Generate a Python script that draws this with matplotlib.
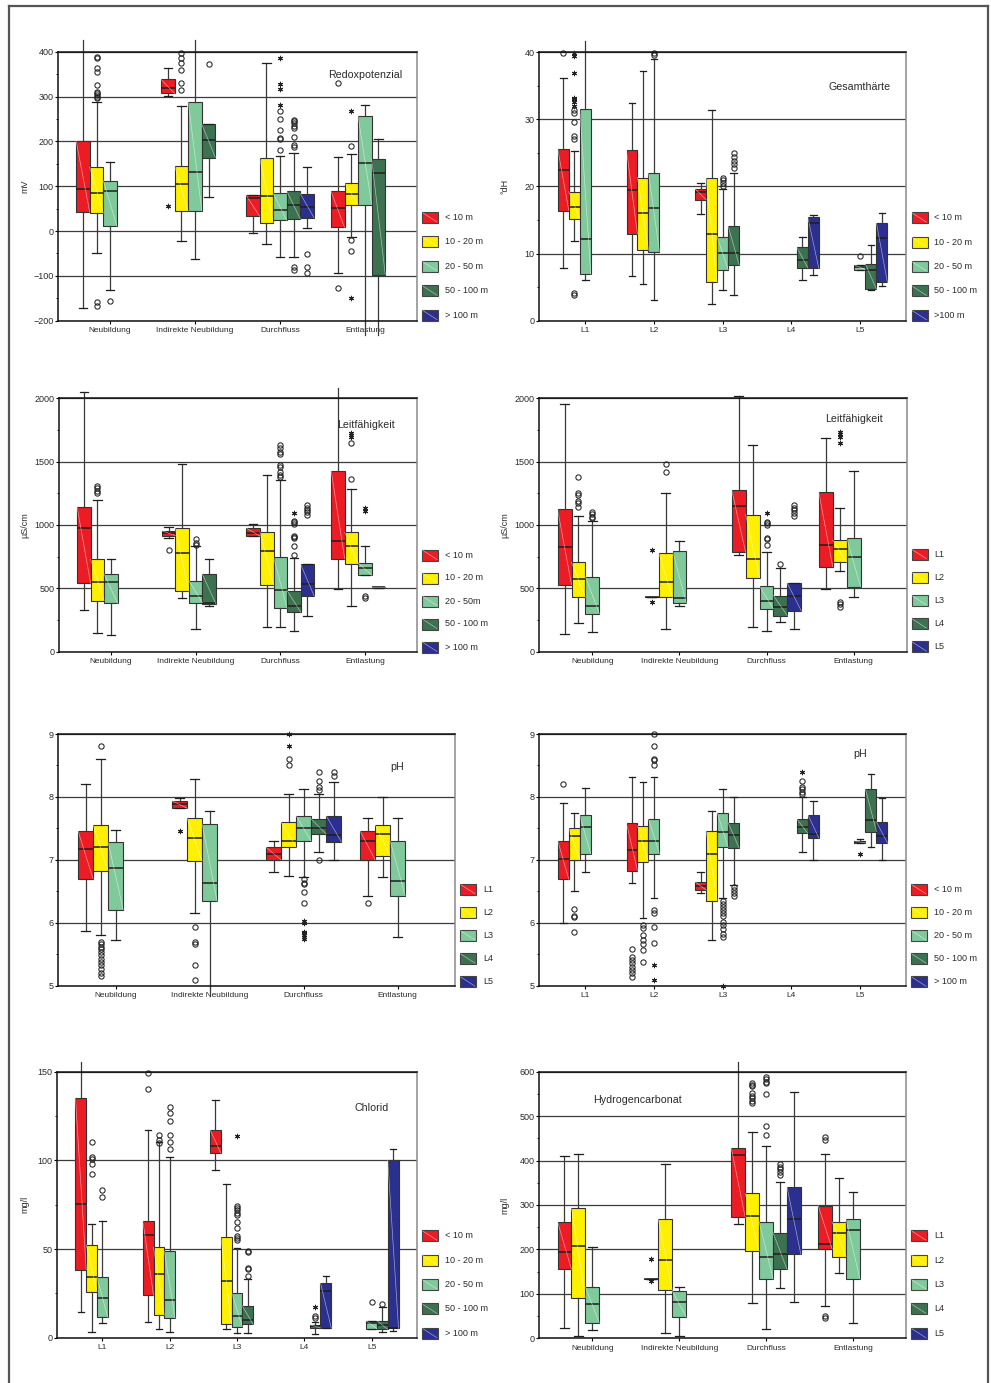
import matplotlib
matplotlib.use("Agg")
import matplotlib.pyplot as plt
from matplotlib.patches import Rectangle
from matplotlib.lines import Line2D
from matplotlib.ticker import MultipleLocator

plt.rcParams['font.family'] = ['Liberation Sans', 'DejaVu Sans']

W, H, DPI = 991, 1383, 100

# Fill colours of the five series (depth classes or landscape units)
COLORS = ['#EC1C24', '#FFF000', '#80C99A', '#3C7250', '#2B2F8E']

DEPTH_LABELS = ['< 10 m', '10 - 20 m', '20 - 50 m', '50 - 100 m', '> 100 m']
DEPTH_LABELS_B = ['< 10 m', '10 - 20 m', '20 - 50 m', '50 - 100 m', '>100 m']
DEPTH_LABELS_C = ['< 10 m', '10 - 20 m', '20 - 50m', '50 - 100 m', '> 100 m']
UNIT_LABELS = ['L1', 'L2', 'L3', 'L4', 'L5']
FLOW_GROUPS = ['Neubildung', 'Indirekte Neubildung', 'Durchfluss', 'Entlastung']
UNIT_GROUPS = ['L1', 'L2', 'L3', 'L4', 'L5']

# Box statistics: (group, series, lower whisker, Q1, median, Q3, upper whisker)
REDOX_BOXES = [
    (0, 0, -172, 42, 93, 201, 426), (0, 1, -50, 40, 85, 142, 287),
    (0, 2, -132, 11, 90, 112, 154),
    (1, 0, 302, 307, 320, 338, 363), (1, 1, -22, 44, 104, 145, 279),
    (1, 2, -63, 45, 132, 288, 426), (1, 3, 76, 164, 204, 238, 238),
    (2, 0, -4, 33, 73, 80, 80), (2, 1, -30, 19, 78, 164, 374),
    (2, 2, -59, 24, 47, 84, 167), (2, 3, -59, 27, 59, 89, 175),
    (2, 4, 6, 30, 54, 83, 143),
    (3, 0, -94, 8, 52, 89, 166), (3, 1, -14, 59, 82, 108, 172),
    (3, 2, -232, 59, 152, 256, 280), (3, 3, -232, -97, 129, 160, 205),
]
REDOX_OPEN = [(0, 0, 'hi'), (1, 2, 'hi'), (3, 2, 'lo'), (3, 3, 'lo')]
REDOX_OUTLIERS = [
    (0, 1, [388, 385, 363, 354, 326, 311, 307, 303, 299, 296, -158, -167]),
    (0, 2, [-157]),
    (1, 1, [396, 385, 375, 359, 331, 314]),
    (1, 3, [372]),
    (2, 2, [181, 205, 208, 225, 250, 268]),
    (2, 3, [188, 193, 210, 229, 235, 240, 245, 248, -80, -86]),
    (2, 4, [-51, -80, -94]),
    (3, 0, [331, -126]),
    (3, 1, [190, -20, -44]),
]
REDOX_EXTREMES = [(1, 0, [56]), (2, 2, [281, 317, 327, 385]), (3, 1, [268, -150])]

HARD_BOXES = [
    (0, 0, 7.8, 16.4, 22.4, 25.5, 36.2), (0, 1, 11.9, 15.2, 17.0, 19.2, 25.2),
    (0, 2, 6.1, 6.9, 12.2, 31.5, 41.6),
    (1, 0, 6.6, 12.9, 19.4, 25.4, 32.4), (1, 1, 5.4, 10.5, 16.1, 21.3, 37.1),
    (1, 2, 3.1, 10.3, 16.8, 22.0, 39.0),
    (2, 0, 15.9, 18.0, 19.1, 19.6, 20.5), (2, 1, 2.5, 5.7, 12.9, 21.2, 31.4),
    (2, 2, 4.5, 7.6, 10.1, 12.5, 19.6), (2, 3, 3.9, 8.3, 10.1, 14.1, 22.0),
    (3, 3, 6.0, 7.9, 9.0, 10.9, 12.4), (3, 4, 6.8, 7.8, 14.6, 15.4, 15.8),
    (4, 2, 7.6, 7.6, 8.0, 8.3, 8.3), (4, 3, 4.5, 4.7, 7.6, 8.4, 11.2),
    (4, 4, 5.2, 5.7, 12.3, 14.5, 16.0),
]
HARD_OPEN = [(0, 2, 'hi')]
HARD_OUTLIERS = [
    (0, 0, [39.8]),
    (0, 1, [27.0, 27.5, 29.6, 30.9, 31.4, 3.9, 4.1]),
    (1, 2, [39.6, 39.8]),
    (2, 2, [20.1, 20.5, 20.9, 21.3]),
    (2, 3, [22.8, 23.3, 23.8, 24.4, 24.9]),
    (4, 2, [9.7]),
]
HARD_EXTREMES = [(0, 1, [39.8, 39.4, 36.9, 33.2, 33.0, 32.6, 32.0])]

COND_FLOW_BOXES = [
    (0, 0, 326, 540, 979, 1142, 2047), (0, 1, 150, 403, 553, 729, 1195),
    (0, 2, 132, 382, 553, 611, 732),
    (1, 0, 895, 916, 939, 955, 987), (1, 1, 426, 476, 776, 974, 1479),
    (1, 2, 176, 387, 442, 561, 832), (1, 3, 361, 376, 382, 611, 729),
    (2, 0, 913, 913, 939, 974, 1008), (2, 1, 192, 526, 792, 942, 1392),
    (2, 2, 192, 342, 487, 745, 1355), (2, 3, 161, 313, 363, 482, 742),
    (2, 4, 282, 439, 537, 689, 689),
    (3, 0, 492, 732, 876, 1429, 2081), (3, 1, 358, 692, 837, 942, 1287),
    (3, 2, 603, 603, 661, 700, 837), (3, 3, 505, 505, 508, 508, 508),
]
COND_FLOW_OPEN = [(3, 0, 'hi')]
COND_FLOW_OUTLIERS = [
    (0, 1, [1308, 1289, 1268, 1250]),
    (1, 0, [803]),
    (1, 2, [887, 855, 845]),
    (2, 2, [1632, 1605, 1580, 1558, 1474, 1460, 1420, 1395, 1382]),
    (2, 3, [763, 837, 895, 905, 916, 1010, 1020, 1030]),
    (2, 4, [1158, 1137, 1118, 1100, 1079]),
    (3, 1, [1361, 1650]),
    (3, 2, [442, 426]),
]
COND_FLOW_EXTREMES = [(2, 3, [1092]), (3, 1, [1724, 1711, 1697]), (3, 2, [1132, 1111])]

COND_UNIT_BOXES = [
    (0, 0, 137, 529, 829, 1124, 1953), (0, 1, 226, 429, 571, 705, 1068),
    (0, 2, 155, 300, 361, 592, 1032),
    (1, 0, 434, 434, 434, 434, 434), (1, 1, 182, 429, 547, 782, 1255),
    (1, 2, 361, 382, 421, 797, 876),
    (2, 0, 763, 784, 1150, 1276, 2021), (2, 1, 197, 584, 729, 1082, 1632),
    (2, 2, 166, 337, 400, 516, 784), (2, 3, 232, 284, 350, 442, 660),
    (2, 4, 182, 321, 437, 539, 545),
    (3, 0, 495, 671, 842, 1261, 1689), (3, 1, 637, 705, 811, 882, 1137),
    (3, 2, 429, 511, 750, 900, 1429),
]
COND_UNIT_OPEN = []
COND_UNIT_OUTLIERS = [
    (0, 1, [1382, 1250, 1237, 1189, 1171, 1145]),
    (0, 2, [1100, 1084, 1066, 1053]),
    (1, 1, [1479, 1421]),
    (2, 2, [842, 887, 900, 1000, 1013, 1026]),
    (2, 3, [689]),
    (2, 4, [1158, 1137, 1118, 1095, 1074]),
    (3, 1, [395, 376, 355]),
]
COND_UNIT_EXTREMES = [(1, 0, [803, 389]), (2, 2, [1092]), (3, 1, [1737, 1716, 1697, 1650])]

PH_FLOW_BOXES = [
    (0, 0, 5.87, 6.70, 7.18, 7.46, 8.20), (0, 1, 5.81, 6.83, 7.20, 7.55, 8.60),
    (0, 2, 5.73, 6.21, 6.87, 7.28, 7.48),
    (1, 0, 7.82, 7.82, 7.88, 7.94, 7.99), (1, 1, 6.15, 6.98, 7.34, 7.66, 8.28),
    (1, 2, 4.83, 6.34, 6.64, 7.57, 7.78),
    (2, 0, 6.80, 7.00, 7.10, 7.20, 7.30), (2, 1, 6.74, 7.20, 7.30, 7.60, 8.04),
    (2, 2, 6.73, 7.30, 7.50, 7.70, 8.12), (2, 3, 7.12, 7.41, 7.51, 7.65, 8.04),
    (2, 4, 7.00, 7.29, 7.40, 7.70, 8.23),
    (3, 0, 6.43, 7.00, 7.30, 7.46, 7.66), (3, 1, 6.73, 7.06, 7.41, 7.56, 8.00),
    (3, 2, 5.78, 6.43, 6.67, 7.30, 7.67),
]
PH_FLOW_OPEN = [(1, 2, 'lo')]
PH_FLOW_OUTLIERS = [
    (0, 1, [8.81, 5.70, 5.66, 5.62, 5.58, 5.54, 5.48, 5.42, 5.37, 5.33, 5.27, 5.20, 5.15]),
    (1, 1, [5.94, 5.69, 5.67, 5.33, 5.09]),
    (2, 1, [8.60, 8.50]),
    (2, 2, [6.69, 6.64, 6.62, 6.49, 6.31]),
    (2, 3, [8.39, 8.25, 8.15, 8.11, 7.00]),
    (2, 4, [8.39, 8.34]),
    (3, 0, [6.31]),
]
PH_FLOW_EXTREMES = [(1, 0, [7.46]), (2, 1, [9.0, 8.81]),
                    (2, 2, [6.03, 6.00, 5.86, 5.83, 5.80, 5.77, 5.75])]

PH_UNIT_BOXES = [
    (0, 0, 6.00, 6.69, 7.01, 7.30, 7.91), (0, 1, 6.50, 7.00, 7.38, 7.50, 7.75),
    (0, 2, 6.80, 7.09, 7.52, 7.71, 8.14),
    (1, 0, 6.64, 6.83, 7.16, 7.58, 8.31), (1, 1, 6.08, 6.96, 7.30, 7.54, 8.23),
    (1, 2, 6.40, 7.10, 7.30, 7.65, 8.31),
    (2, 0, 6.47, 6.52, 6.58, 6.65, 6.81), (2, 1, 5.73, 6.35, 7.09, 7.46, 7.78),
    (2, 2, 6.40, 7.20, 7.45, 7.75, 8.12), (2, 3, 6.60, 7.19, 7.40, 7.59, 8.00),
    (3, 3, 7.12, 7.42, 7.52, 7.65, 8.00), (3, 4, 7.00, 7.35, 7.41, 7.72, 7.94),
    (4, 2, 7.26, 7.27, 7.29, 7.30, 7.33), (4, 3, 7.20, 7.45, 7.63, 8.12, 8.37),
    (4, 4, 7.00, 7.27, 7.38, 7.60, 7.99),
]
PH_UNIT_OPEN = []
PH_UNIT_OUTLIERS = [
    (0, 0, [8.20]),
    (0, 1, [6.22, 6.11, 6.09, 5.86]),
    (1, 0, [5.58, 5.45, 5.41, 5.36, 5.30, 5.25, 5.20, 5.14]),
    (1, 1, [5.96, 5.91, 5.81, 5.73, 5.67, 5.57, 5.37]),
    (1, 2, [9.00, 8.81, 8.61, 8.59, 8.50, 6.20, 6.16, 5.94, 5.68]),
    (2, 2, [6.35, 6.30, 6.25, 6.20, 6.15, 6.10, 6.02, 5.96, 5.90, 5.82, 5.78]),
    (2, 3, [6.57, 6.52, 6.47, 6.43]),
    (3, 3, [8.25, 8.16, 8.12, 8.08, 8.04]),
]
PH_UNIT_EXTREMES = [(1, 2, [5.33, 5.09]), (2, 2, [5.00]), (3, 3, [8.39]), (4, 2, [7.09])]

CHLORIDE_BOXES = [
    (0, 0, 14.3, 38.2, 75.2, 135.0, 155.6), (0, 1, 3.0, 26.0, 34.0, 52.3, 63.9),
    (0, 2, 8.1, 11.5, 22.4, 34.0, 66.0),
    (1, 0, 8.6, 23.9, 57.7, 66.0, 117.1), (1, 1, 4.7, 12.6, 35.9, 50.9, 110.5),
    (1, 2, 3.0, 11.1, 21.2, 48.7, 102.1),
    (2, 0, 94.4, 104.1, 108.3, 117.3, 134.2), (2, 1, 4.7, 7.5, 32.1, 57.0, 86.7),
    (2, 2, 2.8, 6.2, 12.0, 25.4, 50.8), (2, 3, 2.4, 7.5, 9.9, 17.9, 33.1),
    (3, 3, 2.1, 5.6, 6.4, 7.3, 9.0), (3, 4, 5.3, 5.6, 26.3, 31.0, 35.0),
    (4, 2, 5.1, 5.1, 8.1, 9.4, 9.4), (4, 3, 3.4, 4.7, 7.1, 9.6, 17.1),
    (4, 4, 3.8, 5.3, 5.6, 100.2, 106.2),
]
CHLORIDE_OPEN = [(0, 0, 'hi')]
CHLORIDE_OUTLIERS = [
    (0, 1, [110.2, 101.7, 100.9, 97.9, 92.1]),
    (0, 2, [83.3, 79.1]),
    (1, 0, [149.0, 140.2]),
    (1, 1, [114.3, 111.5, 109.6]),
    (1, 2, [130.3, 126.5, 122.2, 114.3, 110.5, 106.4]),
    (2, 2, [74.2, 72.9, 72.0, 70.5, 69.2, 65.4, 62.0, 57.5, 56.0, 55.1]),
    (2, 3, [49.1, 48.1, 39.1, 38.5, 35.0]),
    (3, 3, [12.2, 11.3]),
    (4, 2, [20.0]),
    (4, 3, [19.0]),
]
CHLORIDE_EXTREMES = [(2, 2, [113.5]), (3, 3, [17.5])]

HCO3_BOXES = [
    (0, 0, 24.0, 155.3, 195.0, 262.5, 409.5), (0, 1, 4.5, 91.5, 208.5, 294.0, 415.5),
    (0, 2, 18.8, 35.3, 76.5, 115.5, 206.0),
    (1, 0, 134, 134, 134, 134, 134), (1, 1, 12.8, 108.8, 175.5, 267.8, 391.5),
    (1, 2, 5.3, 48.8, 81.0, 106.5, 116.0),
    (2, 0, 256.5, 272.3, 412.5, 427.5, 622.5), (2, 1, 79.5, 195.8, 275.3, 326.0, 465.0),
    (2, 2, 20.3, 133.5, 182.3, 262.5, 433.5), (2, 3, 114.0, 155.3, 189.0, 237.8, 352.5),
    (2, 4, 81.0, 189.0, 268.5, 341.0, 555.0),
    (3, 0, 73.5, 201.0, 213.0, 298.5, 414.8), (3, 1, 146.3, 183.8, 237.8, 261.8, 361.5),
    (3, 2, 34.5, 133.5, 243.8, 267.8, 329.3),
]
HCO3_OPEN = [(2, 0, 'hi')]
HCO3_OUTLIERS = [
    (2, 1, [573.8, 570.0, 567.8, 551.0, 545.0, 540.0, 535.0, 530.0]),
    (2, 2, [588.8, 583.5, 577.5, 573.8, 549.8, 477.8, 457.5]),
    (2, 3, [392.0, 386.0, 380.0, 375.0, 367.5]),
    (3, 0, [452.0, 446.0, 51.0, 45.8]),
]
HCO3_EXTREMES = [(1, 0, [177.8, 129.0])]

SLOT = 0.16          # width of one box, boxes of a group sit side by side
EDGE = '#333333'
TEXT = '#2a2a2a'


def add_axes_px(fig, left, right, top, bottom):
    return fig.add_axes([left / W, 1 - bottom / H, (right - left) / W, (bottom - top) / H])


def draw_boxes(ax, boxes, outliers, extremes, open_ends):
    fl = {(g, s): v for g, s, v in outliers}
    stats, pos = [], []
    for g, s, lo, q1, med, q3, hi in boxes:
        stats.append(dict(whislo=lo, q1=q1, med=med, q3=q3, whishi=hi,
                          fliers=fl.get((g, s), [])))
        pos.append(g + 1 + (s - 2) * SLOT)
    art = ax.bxp(stats, positions=pos, widths=SLOT, capwidths=SLOT * 0.62,
                 patch_artist=True, manage_ticks=False,
                 boxprops=dict(edgecolor=EDGE, linewidth=0.8),
                 medianprops=dict(color='#1e1e1e', linewidth=1.1),
                 whiskerprops=dict(color='#3a3a3a', linewidth=0.9),
                 capprops=dict(color='#1e1e1e', linewidth=0.9),
                 flierprops=dict(marker='o', markerfacecolor='none',
                                 markeredgecolor='#222222', markersize=3.8,
                                 markeredgewidth=0.75))
    for i, (g, s, lo, q1, med, q3, hi) in enumerate(boxes):
        art['boxes'][i].set_facecolor(COLORS[s])
        for a in (art['whiskers'][2 * i], art['whiskers'][2 * i + 1],
                  art['caps'][2 * i], art['caps'][2 * i + 1], art['fliers'][i]):
            a.set_clip_on(False)
        if q3 > q1:
            x = pos[i]
            ax.plot([x - SLOT / 2, x + SLOT / 2], [q3, q1], color='white',
                    alpha=0.55, lw=0.5, zorder=3)
        if (g, s, 'lo') in open_ends:
            art['caps'][2 * i].set_visible(False)
        if (g, s, 'hi') in open_ends:
            art['caps'][2 * i + 1].set_visible(False)
    for g, s, vals in extremes:
        x = g + 1 + (s - 2) * SLOT
        ax.plot([x] * len(vals), vals, linestyle='none', marker=(6, 2, 0),
                markersize=3.8, markeredgewidth=0.75, color='#222222',
                clip_on=False, zorder=4)


def style_axes(ax, groups, ylim, major, minor):
    n = len(groups)
    pad = 0.61 if n == 4 else 0.67
    ax.set_xlim(1 - pad, n + pad)
    ax.set_ylim(*ylim)
    ax.set_xticks(range(1, n + 1))
    ax.set_xticklabels(groups, fontsize=6, color=TEXT)
    ax.yaxis.set_major_locator(MultipleLocator(major))
    ax.yaxis.set_minor_locator(MultipleLocator(minor))
    ax.tick_params(axis='y', which='major', labelsize=6.5, labelcolor=TEXT,
                   length=2.5, width=0.8, pad=1)
    ax.tick_params(axis='y', which='minor', length=1.6, width=0.6)
    ax.tick_params(axis='x', length=2.5, width=0.8, pad=2)
    ax.yaxis.grid(True, which='major', color='#3c3c3c', linewidth=0.9)
    ax.set_axisbelow(True)
    for side in ('left', 'top', 'bottom'):
        ax.spines[side].set_color('#111111')
        ax.spines[side].set_linewidth(1.1)
    ax.spines['right'].set_color('#8a8a8a')
    ax.spines['right'].set_linewidth(1.1)


def draw_legend(fig, labels, x, y0, step):
    for i, (c, lab) in enumerate(zip(COLORS, labels)):
        yc = y0 + i * step
        fig.add_artist(Rectangle((x / W, 1 - (yc + 5.5) / H), 16 / W, 11 / H,
                                 transform=fig.transFigure, facecolor=c,
                                 edgecolor='#444444', linewidth=0.8))
        fig.add_artist(Line2D([(x + 1) / W, (x + 15) / W],
                              [1 - (yc - 4.5) / H, 1 - (yc + 4.5) / H],
                              transform=fig.transFigure, color='white',
                              alpha=0.55, lw=0.5))
        fig.text((x + 23) / W, 1 - yc / H, lab, fontsize=6.5, color=TEXT,
                 ha='left', va='center')


fig = plt.figure(figsize=(W / DPI, H / DPI), dpi=DPI)

# Outer frame of the page
for xs, ys in (([9, 9], [6, H]), ([9, 988], [6, 6]), ([988, 988], [6, H])):
    fig.add_artist(Line2D([v / W for v in xs], [1 - v / H for v in ys],
                          transform=fig.transFigure, color='#555555', lw=1.6))

panels = [
    # boxes, outliers, extremes, open ends, groups, ylim, major, minor, ylabel,
    # axes box (left, right, top, bottom) px, title, title pos px, legend labels, legend pos
    (REDOX_BOXES, REDOX_OUTLIERS, REDOX_EXTREMES, REDOX_OPEN, FLOW_GROUPS,
     (-200, 400), 100, 50, 'mV', (58.3, 416.7, 51.7, 320.7),
     'Redoxpotenzial', (365, 75), DEPTH_LABELS, (422, 217.5, 24.4)),
    (HARD_BOXES, HARD_OUTLIERS, HARD_EXTREMES, HARD_OPEN, UNIT_GROUPS,
     (0, 40), 10, 5, '°dH', (539.3, 906, 52, 320.7),
     'Gesamthärte', (860, 87), DEPTH_LABELS_B, (911.5, 217.7, 24.4)),
    (COND_FLOW_BOXES, COND_FLOW_OUTLIERS, COND_FLOW_EXTREMES, COND_FLOW_OPEN, FLOW_GROUPS,
     (0, 2000), 500, 250, 'µS/cm', (59.3, 416.7, 398.3, 651.7),
     'Leitfähigkeit', (365.5, 425), DEPTH_LABELS_C, (422, 555, 23.0)),
    (COND_UNIT_BOXES, COND_UNIT_OUTLIERS, COND_UNIT_EXTREMES, COND_UNIT_OPEN, FLOW_GROUPS,
     (0, 2000), 500, 250, 'µS/cm', (539.3, 906.7, 398.3, 651.7),
     'Leitfähigkeit', (854.5, 419), UNIT_LABELS, (911.5, 554.3, 23.1)),
    (PH_FLOW_BOXES, PH_FLOW_OUTLIERS, PH_FLOW_EXTREMES, PH_FLOW_OPEN, FLOW_GROUPS,
     (5, 9), 1, 0.5, None, (58.3, 455, 734, 985.7),
     'pH', (397.5, 767), UNIT_LABELS, (460, 889.3, 23.1)),
    (PH_UNIT_BOXES, PH_UNIT_OUTLIERS, PH_UNIT_EXTREMES, PH_UNIT_OPEN, UNIT_GROUPS,
     (5, 9), 1, 0.5, None, (539.3, 906, 734, 985.7),
     'pH', (860, 754), DEPTH_LABELS, (911, 889.3, 23.1)),
    (CHLORIDE_BOXES, CHLORIDE_OUTLIERS, CHLORIDE_EXTREMES, CHLORIDE_OPEN, UNIT_GROUPS,
     (0, 150), 50, 25, 'mg/l', (57.3, 416.7, 1071.7, 1337.7),
     'Chlorid', (371.5, 1108), DEPTH_LABELS, (422, 1235.7, 24.4)),
    (HCO3_BOXES, HCO3_OUTLIERS, HCO3_EXTREMES, HCO3_OPEN, FLOW_GROUPS,
     (0, 600), 100, 50, 'mg/l', (539.3, 906, 1071.7, 1338.3),
     'Hydrogencarbonat', (637.5, 1100), UNIT_LABELS, (911, 1235.7, 24.4)),
]

for (boxes, outl, ext, open_ends, groups, ylim, major, minor, ylabel, box,
     title, tpos, leg_labels, leg_pos) in panels:
    left, right, top, bottom = box
    ax = add_axes_px(fig, left, right, top, bottom)
    style_axes(ax, groups, ylim, major, minor)
    draw_boxes(ax, boxes, outl, ext, open_ends)
    if ylabel:
        ax.set_ylabel(ylabel, fontsize=6.5, color=TEXT)
        label_x = 29 + (480 if left > 400 else 0)
        ax.yaxis.set_label_coords((label_x - left) / (right - left), 0.5)
    fig.text(tpos[0] / W, 1 - tpos[1] / H, title, fontsize=7.7, color=TEXT,
             ha='center', va='center')
    draw_legend(fig, leg_labels, *leg_pos)

fig.savefig('out.png', dpi=DPI)
